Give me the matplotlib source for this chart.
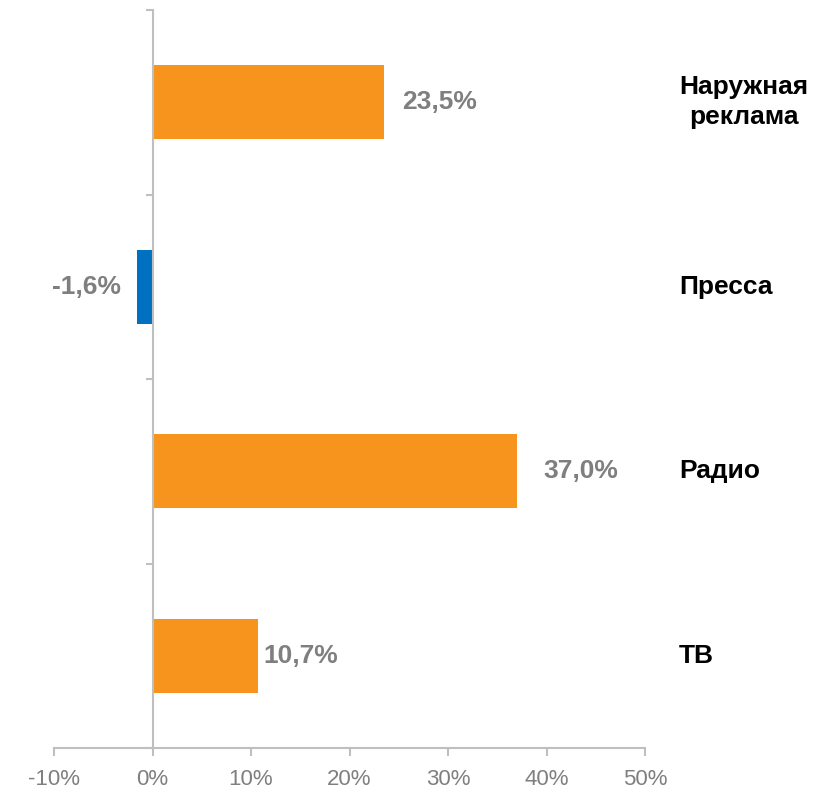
import matplotlib
matplotlib.use("Agg")
import matplotlib.pyplot as plt
import numpy as np

# Data (top to bottom in the picture)
categories = ["Наружная\nреклама", "Пресса", "Радио", "ТВ"]
values = [23.5, -1.6, 37.0, 10.7]
value_labels = ["23,5%", "-1,6%", "37,0%", "10,7%"]
x_ticks = [-10, 0, 10, 20, 30, 40, 50]
x_tick_labels = ["-10%", "0%", "10%", "20%", "30%", "40%", "50%"]

orange = "#F7941E"
blue = "#0070C0"
grey_text = "#7F7F7F"
axis_col = "#BFBFBF"

fig = plt.figure(figsize=(8.27, 7.95), dpi=100)
ax = fig.add_axes([54 / 827, 47 / 795, 591 / 827, 738 / 795])

pos = np.arange(len(categories))[::-1]
colors = [blue if v < 0 else orange for v in values]
ax.barh(pos, values, height=0.4, color=colors, zorder=1)

ax.set_xlim(-10, 50)
ax.set_ylim(-0.5, len(categories) - 0.5)

# spines
for s in ["top", "right"]:
    ax.spines[s].set_visible(False)
ax.spines["left"].set_position(("data", 0))
ax.spines["left"].set_color(axis_col)
ax.spines["bottom"].set_color(axis_col)
ax.spines["left"].set_linewidth(1.5)
ax.spines["bottom"].set_linewidth(1.5)
ax.spines["left"].set_zorder(3)

ax.set_xticks(x_ticks)
ax.set_xticklabels(x_tick_labels, family="Liberation Sans", fontsize=16, color=grey_text)
ax.tick_params(axis="x", direction="out", length=6, width=1.5, color=axis_col, pad=9)
ax.set_yticks(np.arange(-0.5, len(categories), 1.0))
ax.set_yticklabels([])
ax.tick_params(axis="y", direction="out", length=5, width=1.5, color=axis_col)

# value labels
offsets = [18, -16, 26, 5]
for p, v, lab, off in zip(pos, values, value_labels, offsets):
    ax.annotate(lab, xy=(v, p), xytext=(off, 0),
                textcoords="offset pixels", ha="left" if v >= 0 else "right",
                va="center", fontsize=19, fontweight="bold", color=grey_text,
                family="Liberation Sans")

# category labels on the right
for p, name in zip(pos, categories):
    ax.text(1.0575, p, name, transform=ax.get_yaxis_transform(), ha="left",
            va="center", multialignment="center", fontsize=19, fontweight="bold",
            color="black", family="Liberation Sans", linespacing=1.3)

fig.savefig("out.png", dpi=100, facecolor="white")
